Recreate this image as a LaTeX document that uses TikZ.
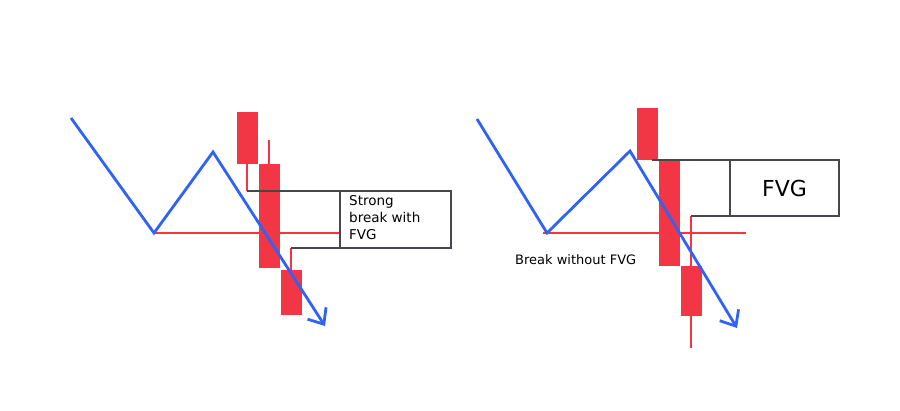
\documentclass[tikz,border=0pt]{standalone}
\usepackage{fontspec}
\setmainfont{DejaVu Sans}
\usetikzlibrary{arrows.meta}
\definecolor{cred}{HTML}{F23645}
\definecolor{cblue}{HTML}{2F62F5}
\definecolor{cgray}{HTML}{45474D}
\begin{document}
\begin{tikzpicture}[x=1pt,y=-1pt,
  trend/.style={cblue,line width=2.8pt,line join=miter,-{Straight Barb[length=13pt,width=22pt,line width=2.8pt]}},
  lvl/.style={cred,line width=2pt},
  wick/.style={cred,line width=2.4pt},
  body/.style={fill=cred,draw=none},
  gap/.style={cgray,line width=2.6pt},
  gbox/.style={draw=cgray,line width=2.6pt,anchor=north west,inner sep=0pt,outer sep=0pt}]
\useasboundingbox (0,0) rectangle (900,410);
% left
\draw[lvl] (154,233) coordinate (l2) -- (340,233) coordinate (lr);
\draw[wick] (247,164) coordinate (w1a) -- (247,191) coordinate (w1b);
\draw[wick] (269,140) coordinate (w2a) -- (269,164) coordinate (w2b);
\draw[wick] (291,248) coordinate (w3a) -- (291,270) coordinate (w3b);
\fill[body] (237,112) rectangle (258,164);
\fill[body] (259,164) rectangle (280,268);
\fill[body] (281,270) rectangle (302,315);
\draw[gap] (w1b) -- (340,191);
\node[gbox,minimum width=111pt,minimum height=57pt] (b1) at (340,191) {};
\node[anchor=north west,align=left,font=\fontsize{13.5pt}{17pt}\selectfont,inner sep=0pt] (t1) at (349,195) {Strong\\break with\\FVG};
\draw[gap] (w3a) -- (b1.south west);
\draw[trend] (71,118) coordinate (l1) -- (l2) -- (213,152) coordinate (l3) -- (325,326) coordinate (l4);
% right
\draw[lvl] (543,233) coordinate (r0) -- (746,233) coordinate (rr);
\draw[wick] (691,216) coordinate (v3a) -- (691,348) coordinate (v3b);
\fill[body] (637,108) rectangle (658,160);
\fill[body] (659,161) rectangle (680,266);
\fill[body] (681,266) rectangle (702,316);
\draw[gap] (652,160) coordinate (g0) -- (730,160);
\node[gbox,minimum width=109pt,minimum height=56pt] (b2) at (730,160) {};
\node[font=\fontsize{22pt}{25pt}\selectfont] (t2) at (b2.center) {FVG};
\draw[gap] (v3a) -- (b2.south west);
\node[anchor=west,font=\fontsize{13pt}{15pt}\selectfont,inner sep=0pt] (t3) at (515,260) {Break without FVG};
\draw[trend] (477,119) coordinate (r1) -- (547,233) coordinate (r2) -- (630,151) coordinate (r3) -- (737,328) coordinate (r4);
\end{tikzpicture}
\end{document}
